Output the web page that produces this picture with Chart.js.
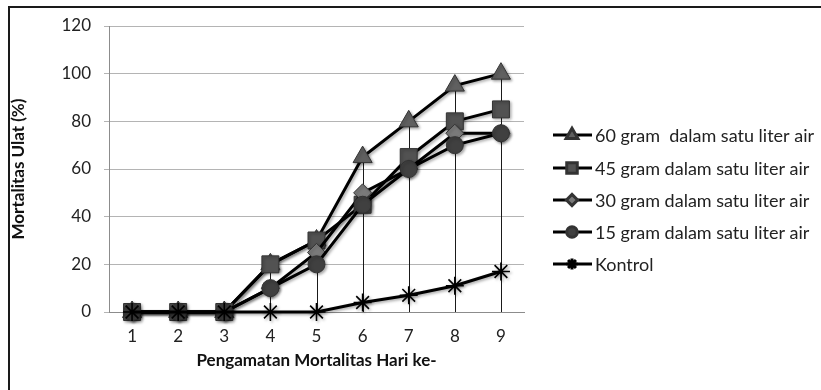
<!DOCTYPE html>
<html>
<head>
<meta charset="utf-8">
<script src="https://cdn.jsdelivr.net/npm/chart.js@4/dist/chart.umd.min.js"></script>
<style>
  html, body { margin: 0; padding: 0; background: #fff; }
  #wrap { width: 821px; height: 390px; position: relative; }
</style>
</head>
<body>
<div id="wrap"><canvas id="chart" width="821" height="390"></canvas></div>
<script>
// observation days
const days = ['1', '2', '3', '4', '5', '6', '7', '8', '9'];

// mortality (%)
const gram60 = [0, 0, 0, 20, 30, 65, 80, 95, 100];
const gram45 = [0, 0, 0, 20, 30, 45, 65, 80, 85];
const gram30 = [0, 0, 0, 10, 25, 50, 60, 75, 75];
const gram15 = [0, 0, 0, 10, 20, 45, 60, 70, 75];
const kontrol = [0, 0, 0, 0, 0, 4, 7, 11, 17];

const seriesNames = [
    '60 gram  dalam satu liter air',
    '45 gram dalam satu liter air',
    '30 gram dalam satu liter air',
    '15 gram dalam satu liter air',
    'Kontrol'
];

const yTicks = [0, 20, 40, 60, 80, 100, 120];

const FONT = 'Lato, Carlito, Calibri, sans-serif';

function makeSet(label, data, style, radius, fill, order) {
    return {
        label: label,
        data: data,
        borderColor: '#000',
        borderWidth: 3,
        pointStyle: style,
        pointRadius: radius,
        pointHoverRadius: radius,
        pointBackgroundColor: fill,
        pointBorderColor: style === 'star' ? '#000' : '#333',
        pointBorderWidth: style === 'star' ? 1.6 : 1,
        tension: 0,
        fill: false,
        clip: false,
        order: order
    };
}

// Excel style drop lines: from the highest value at each day down to zero
const dropLines = {
    id: 'dropLines',
    beforeDatasetsDraw(chart) {
        const ctx = chart.ctx;
        const x = chart.scales.x, y = chart.scales.y;
        ctx.save();
        ctx.strokeStyle = '#1a1a1a';
        ctx.lineWidth = 1;
        days.forEach((d, i) => {
            const top = Math.max(...chart.data.datasets.map(ds => ds.data[i]));
            if (top <= 0) return;
            const px = Math.round(x.getPixelForValue(i)) + 0.5;
            ctx.beginPath();
            ctx.moveTo(px, y.getPixelForValue(top));
            ctx.lineTo(px, y.getPixelForValue(0));
            ctx.stroke();
        });
        ctx.restore();
        // soft shadow under the series
        ctx.save();
        ctx.shadowColor = 'rgba(0,0,0,0.35)';
        ctx.shadowBlur = 3;
        ctx.shadowOffsetX = 1.5;
        ctx.shadowOffsetY = 1.5;
    },
    afterDatasetsDraw(chart) {
        chart.ctx.restore();
    }
};

// legend on the right plus the frame around the picture
const sideLegend = {
    id: 'sideLegend',
    afterDraw(chart) {
        const ctx = chart.ctx;
        const rows = [135, 168, 200, 232, 264];
        ctx.save();
        chart.data.datasets.forEach((ds, i) => {
            const yy = rows[i];
            ctx.strokeStyle = '#000';
            ctx.lineWidth = 3;
            ctx.beginPath();
            ctx.moveTo(553, yy);
            ctx.lineTo(592, yy);
            ctx.stroke();
            ctx.fillStyle = ds.pointBackgroundColor;
            ctx.strokeStyle = ds.pointBorderColor;
            Chart.helpers.drawPoint(ctx, {
                pointStyle: ds.pointStyle,
                radius: ds.pointRadius * 0.62,
                rotation: 0,
                borderWidth: 1
            }, 572, yy);
            ctx.fillStyle = '#222';
            ctx.font = '18px ' + FONT;
            ctx.textBaseline = 'middle';
            ctx.textAlign = 'left';
            ctx.fillText(ds.label, 595, yy + 1);
        });
        ctx.strokeStyle = '#1a1a1a';
        ctx.lineWidth = 2;
        ctx.beginPath();
        ctx.moveTo(9, 390);
        ctx.lineTo(9, 7);
        ctx.lineTo(821, 7);
        ctx.stroke();
        ctx.restore();
    }
};

new Chart(document.getElementById('chart'), {
    type: 'line',
    data: {
        labels: days,
        datasets: [
            makeSet(seriesNames[0], gram60, 'triangle', 11, '#606060', 5),
            makeSet(seriesNames[1], gram45, 'rect', 12, '#525252', 4),
            makeSet(seriesNames[2], gram30, 'rectRot', 9, '#7a7a7a', 3),
            makeSet(seriesNames[3], gram15, 'circle', 8.5, '#404040', 2),
            makeSet(seriesNames[4], kontrol, 'star', 9, '#000', 1)
        ]
    },
    plugins: [dropLines, sideLegend],
    options: {
        responsive: false,
        animation: false,
        events: [],
        layout: { padding: { left: 0, right: 297, top: 26, bottom: 0 } },
        plugins: {
            legend: { display: false },
            tooltip: { enabled: false }
        },
        scales: {
            x: {
                offset: true,
                grid: { display: false, drawTicks: false },
                border: { color: '#8c8c8c', width: 1 },
                ticks: { color: '#222', font: { family: FONT, size: 17 }, padding: 14 },
                title: {
                    display: true,
                    text: 'Pengamatan Mortalitas Hari ke-',
                    color: '#111',
                    font: { family: FONT, size: 17, weight: 'bold' },
                    padding: { top: 0, bottom: 19 }
                },
                afterFit(scale) { scale.height = 78; }
            },
            y: {
                min: 0,
                max: 120,
                afterBuildTicks(scale) { scale.ticks = yTicks.map(v => ({ value: v })); },
                grid: { color: '#b4b4b4', lineWidth: 1, tickLength: 5 },
                border: { color: '#8c8c8c', width: 1 },
                ticks: { color: '#222', font: { family: FONT, size: 17 }, padding: 13 },
                title: {
                    display: true,
                    text: 'Mortalitas Ulat (%)',
                    color: '#111',
                    font: { family: FONT, size: 17, weight: 'bold' },
                    padding: { top: 8, bottom: 0 }
                },
                afterFit(scale) { scale.width = 109; }
            }
        }
    }
});
</script>
</body>
</html>
